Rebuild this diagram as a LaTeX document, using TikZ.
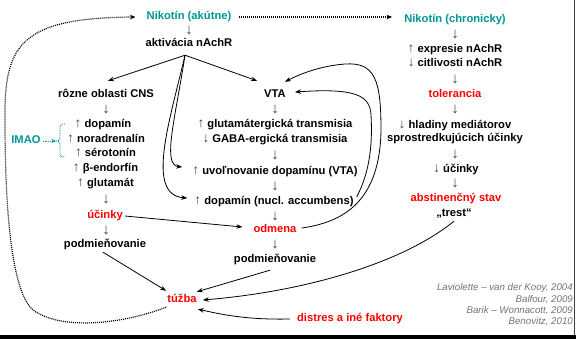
\documentclass[tikz,border=0pt]{standalone}
\usepackage{fontspec}
\setmainfont{Liberation Sans}
\usetikzlibrary{arrows.meta,calc}
\definecolor{tealc}{RGB}{0,150,150}
\definecolor{redc}{RGB}{255,0,0}
\definecolor{agray}{RGB}{70,70,70}
\definecolor{refgray}{RGB}{115,115,115}
\newcommand\myup{{\mdseries\fontsize{13.5}{13}\selectfont\textcolor{agray}{↑}}}
\newcommand\mydn{{\mdseries\fontsize{13.5}{13}\selectfont\textcolor{agray}{↓}}}
\begin{document}
\begin{tikzpicture}[x=1pt,y=-1pt,
  lbl/.style={font=\bfseries\fontsize{11.2}{13}\selectfont, inner sep=2pt, text height=8pt, text depth=2pt},
  hot/.style={lbl, text=redc},
  tl/.style={lbl, text=tealc},
  ar/.style={font=\fontsize{15}{15}\selectfont, text=agray, inner sep=0pt},
  refl/.style={font=\itshape\fontsize{9.7}{11}\selectfont, text=refgray, inner sep=0pt, anchor=base east},
  conn/.style={line width=0.8pt, -{Stealth[length=6pt,width=4.5pt]}},
  dotconn/.style={line width=1.2pt, dash pattern=on 1pt off 1pt, -{Stealth[length=5.5pt,width=4.5pt]}},
  dotteal/.style={tealc, line width=0.9pt, dash pattern=on 0.9pt off 0.9pt}
]
\fill[white] (0,0) rectangle (576,339);
\useasboundingbox (0,0) rectangle (576,339);

% frame pieces
\fill[black] (0,335) rectangle (576,339);
\draw[black!75, line width=1.3pt] (574.5,0) -- (574.5,335);

% top
\node[tl] (nak) at (189,17) {Nikotín (akútne)};
\node[tl] (nch) at (455,20) {Nikotín (chronicky)};
\node[ar] (d1) at (189,31) {↓};
\node[lbl] (akt) at (189,44) {aktivácia nAchR};

% left column
\node[lbl] (cns) at (106,95) {rôzne oblasti CNS};
\node[ar] (d2) at (106,110) {↓};
\node[lbl] (l1) at (103,125) {\myup\ dopamín};
\node[lbl] (l2) at (106,139.5) {\myup\ noradrenalín};
\node[lbl] (l3) at (105.5,154) {\myup\ sérotonín};
\node[lbl] (l4) at (105.5,169) {\myup\ β-endorfín};
\node[lbl] (l5) at (105.5,184) {\myup\ glutamát};
\node[ar] (d3) at (106,200) {↓};
\node[hot] (uc) at (105,216) {účinky};
\node[ar] (d4) at (106,231) {↓};
\node[lbl] (pm1) at (105,245) {podmieňovanie};
\node[tl] (imao) at (26,141) {IMAO};

% middle column
\node[lbl] (vta) at (275,95) {VTA};
\node[ar] (d5) at (275,110) {↓};
\node[lbl] (m1) at (275,125) {\myup\ glutamátergická transmisia};
\node[lbl] (m2) at (275,140) {\mydn\ GABA-ergická transmisia};
\node[ar] (d6) at (275,156) {↓};
\node[lbl] (m3) at (275,172) {\myup\ uvoľnovanie dopamínu (VTA)};
\node[ar] (d7) at (275,187) {↓};
\node[lbl] (m4) at (274,202) {\myup\ dopamín (nucl. accumbens)};
\node[ar] (d8) at (275,217) {↓};
\node[hot] (odm) at (275,230) {odmena};
\node[ar] (d9) at (275,245) {↓};
\node[lbl] (pm2) at (275,260) {podmieňovanie};

% right column
\node[ar] (d10) at (455,35) {↓};
\node[lbl] (r1) at (455,50) {\myup\ expresie nAchR};
\node[lbl] (r2) at (455,64) {\mydn\ citlivosti nAchR};
\node[ar] (d11) at (455,80) {↓};
\node[hot] (tol) at (455,95) {tolerancia};
\node[ar] (d12) at (455,110) {↓};
\node[lbl] (r3) at (455,126) {\mydn\ hladiny mediátorov};
\node[lbl] (r4) at (455,139) {sprostredkujúcich účinky};
\node[ar] (d13) at (455,155) {↓};
\node[lbl] (r5) at (456,170) {\mydn\ účinky};
\node[ar] (d14) at (455,184) {↓};
\node[hot] (abs) at (456,199) {abstinenčný stav};
\node[lbl] (tr) at (454,214) {„trest“};

% bottom
\node[hot] (tuz) at (182,300) {túžba};
\node[hot] (dis) at (350,319) {distres a iné faktory};

% references
\node[refl] (ref1) at (573,290.5) {Laviolette – van der Kooy, 2004};
\node[refl] (ref2) at (573,302.5) {Balfour, 2009};
\node[refl] (ref3) at (573,313.5) {Barik – Wonnacott, 2009};
\node[refl] (ref4) at (573,324.5) {Benovitz, 2010};

% connectors
\coordinate (src) at ([xshift=-4pt,yshift=-4pt]akt.south);
\draw[conn] (src) -- ([xshift=2pt,yshift=7pt]cns.north);
\draw[conn] (src) -- ([xshift=-5pt,yshift=7pt]vta.north west);
\draw[conn] (src) .. controls (175,120) and (162,165) .. ([xshift=-8pt,yshift=5pt]m3.west);
\draw[conn] (src) .. controls (170,120) and (145,195) .. ([xshift=-5pt,yshift=4pt]m4.west);
\draw[conn] (uc.east) -- ([xshift=-9pt,yshift=3pt]odm.west);
\draw[conn] ([xshift=3pt,yshift=2pt]odm.east) .. controls (345,222) and (380,200) .. (381,130)
   .. controls (381,80) and (375,62) .. (345,64)
   .. controls (320,66) and (300,74) .. ([xshift=10pt,yshift=6pt]vta.north);
\draw[conn] ([xshift=1pt,yshift=5pt]m4.east) .. controls (368,175) and (373,150) .. (371,115)
   .. controls (370,95) and (355,88) .. ([xshift=7pt,yshift=3pt]vta.east);
\draw[conn] (tr.south) .. controls (400,265) and (300,292) .. ([xshift=4pt]tuz.east);
\draw[conn] ([xshift=-2pt]pm1.south) -- ([xshift=1pt,yshift=2pt]tuz.north west);
\draw[conn] ([xshift=-5pt,yshift=-3pt]pm2.south) -- ([xshift=-2pt,yshift=1pt]tuz.north east);
\draw[conn] ([xshift=-5pt]dis.west) .. controls (245,320) and (220,314) .. ([xshift=-1pt,yshift=-2pt]tuz.south east);

% dotted connectors
\draw[dotconn] ([xshift=5pt]nak.east) -- ([xshift=-10pt,yshift=3pt]nch.west);
\draw[dotconn] ([xshift=1pt]tuz.south west) .. controls (120,325) and (60,330) .. (33,310)
   .. controls (10,290) and (5,200) .. (5,120)
   .. controls (4,45) and (20,18) .. ([xshift=-9pt]nak.west);

% IMAO brace
\coordinate (bt) at (56,141);
\draw[dotteal] (65,124) .. controls (61,124) and (60,125) .. (60,129) -- (60,137)
   .. controls (60,140) .. (56,141) .. controls (60,142) .. (60,145) -- (60,153)
   .. controls (60,157) and (61,157) .. (65,157);
\draw[dotteal, -{Stealth[length=4.5pt,width=4pt]}] (imao.east) -- (bt);
\end{tikzpicture}
\end{document}
